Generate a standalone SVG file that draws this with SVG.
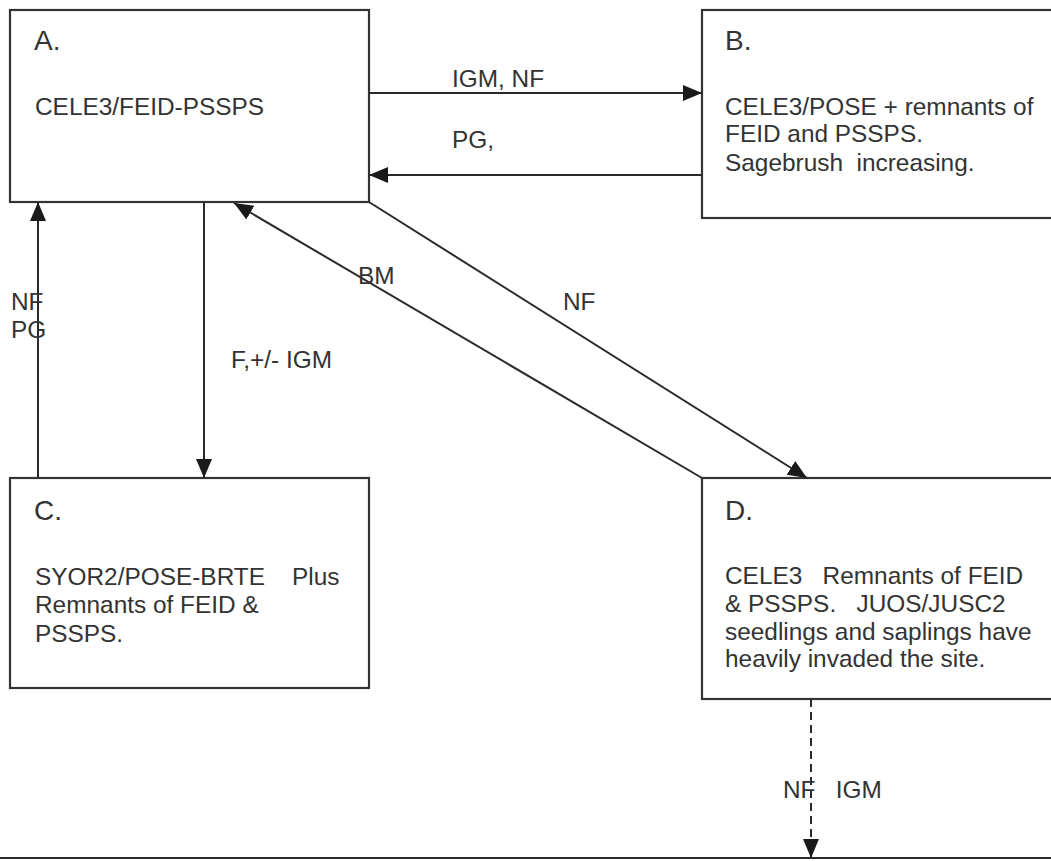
<svg xmlns="http://www.w3.org/2000/svg" width="1051" height="861" viewBox="0 0 1051 861">
<style>
.box{fill:#fff;stroke:#333;stroke-width:2.2}
.ln{stroke:#2a2a2a;stroke-width:2;fill:none}
.dash{stroke:#2a2a2a;stroke-width:2;fill:none;stroke-dasharray:8 5}
text{font-family:"Liberation Sans",Arial,sans-serif;fill:#333}
.t{font-size:28px}
.b{font-size:24.4px}
</style>
<defs>
<marker id="ah" markerUnits="userSpaceOnUse" markerWidth="20" markerHeight="18" refX="19" refY="8" orient="auto" viewBox="0 0 20 16">
<path d="M0,0 L19,8 L0,16 z" fill="#1a1a1a"/>
</marker>
</defs>
<rect width="1051" height="861" fill="#fff"/>
<g id="nodeA">
<rect class="box" x="10" y="10" width="359" height="192"/>
<text class="t" x="34" y="50">A.</text>
<text class="b" x="35" y="115">CELE3/FEID-PSSPS</text>
</g>
<g id="nodeB">
<rect class="box" x="702" y="10" width="360" height="208"/>
<text class="t" x="725" y="50">B.</text>
<text class="b" x="725" y="115">CELE3/POSE + remnants of</text>
<text class="b" x="725" y="142">FEID and PSSPS.</text>
<text class="b" x="725" y="171" xml:space="preserve">Sagebrush  increasing.</text>
</g>
<g id="nodeC">
<rect class="box" x="10" y="478" width="359" height="210"/>
<text class="t" x="34" y="520">C.</text>
<text class="b" x="35" y="585" xml:space="preserve">SYOR2/POSE-BRTE    Plus</text>
<text class="b" x="35" y="613">Remnants of FEID &amp;</text>
<text class="b" x="35" y="642">PSSPS.</text>
</g>
<g id="nodeD">
<rect class="box" x="702" y="478" width="360" height="221"/>
<text class="t" x="725" y="520">D.</text>
<text class="b" x="725" y="584" xml:space="preserve">CELE3   Remnants of FEID</text>
<text class="b" x="725" y="612" xml:space="preserve">&amp; PSSPS.   JUOS/JUSC2</text>
<text class="b" x="725" y="640">seedlings and saplings have</text>
<text class="b" x="725" y="667">heavily invaded the site.</text>
</g>
<g id="connectors">
<line class="ln" x1="369" y1="93" x2="702" y2="93" marker-end="url(#ah)"/>
<line class="ln" x1="702" y1="175" x2="369" y2="175" marker-end="url(#ah)"/>
<line class="ln" x1="204" y1="202" x2="204" y2="478" marker-end="url(#ah)"/>
<line class="ln" x1="38" y1="478" x2="38" y2="202" marker-end="url(#ah)"/>
<line class="ln" x1="702" y1="478" x2="234" y2="203" marker-end="url(#ah)"/>
<line class="ln" x1="369" y1="202" x2="807" y2="478" marker-end="url(#ah)"/>
<line class="dash" x1="811" y1="699" x2="811" y2="858" marker-end="url(#ah)"/>
<line class="ln" x1="0" y1="858" x2="1051" y2="858"/>
<text class="b" x="452" y="87">IGM, NF</text>
<text class="b" x="452" y="148">PG,</text>
<text class="b" x="231" y="368">F,+/- IGM</text>
<text class="b" x="11" y="310">NF</text>
<text class="b" x="11" y="338">PG</text>
<text class="b" x="358" y="284">BM</text>
<text class="b" x="563" y="310">NF</text>
<text class="b" x="783" y="798" xml:space="preserve">NF   IGM</text>
</g>
</svg>
